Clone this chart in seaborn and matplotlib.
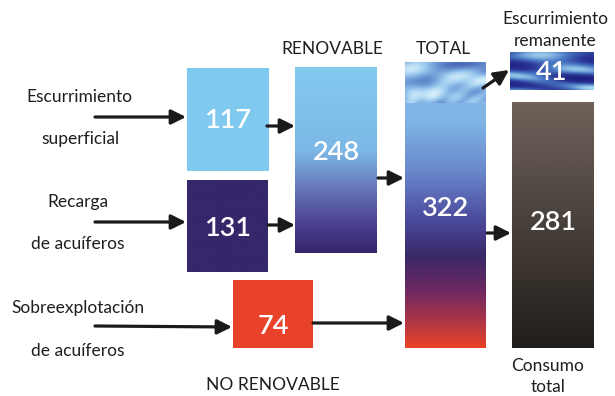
import numpy as np
import matplotlib
matplotlib.use("Agg")
import matplotlib.pyplot as plt
from matplotlib.colors import LinearSegmentedColormap
import seaborn as sns

# values (hm3 per year style flow diagram)
nodes = ["superficial", "recarga", "renovable", "no_renovable", "total", "remanente", "consumo"]
values = [117, 131, 248, 74, 322, 41, 281]

sns.set_theme(style="white")
plt.rcParams['font.family'] = ['Lato', 'DejaVu Sans']

# box layout in pixel coordinates: x0, x1, y0, y1
boxes = {
    "superficial": (187, 269, 68, 171),
    "recarga": (187, 268, 180, 272),
    "renovable": (295, 377, 67, 253),
    "no_renovable": (233, 313, 280, 348),
    "total": (405, 486, 62, 348),
    "remanente": (510, 594, 52, 90),
    "consumo": (512, 594, 102, 348),
}
num_y = {"superficial": 121, "recarga": 229, "renovable": 153, "no_renovable": 326,
         "total": 208, "remanente": 72, "consumo": 222}

fills = {
    "superficial": [(0, "#80c9ef"), (1, "#80c9ef")],
    "recarga": [(0, "#36266a"), (1, "#36266a")],
    "renovable": [(0, "#84caef"), (0.45, "#7cb8e6"), (0.62, "#6b80c0"),
                  (0.85, "#4b3f90"), (1, "#35256a")],
    "no_renovable": [(0, "#e8432a"), (1, "#e8432a")],
    "total": [(0, "#7fb6e6"), (0.2, "#7fb6e6"), (0.38, "#6a88cc"), (0.55, "#4c4a9c"),
              (0.68, "#3a2868"), (0.8, "#6e2860"), (0.9, "#a8344a"), (1, "#ea4226")],
    "consumo": [(0, "#6e625a"), (1, "#221e1b")],
}

fig = plt.figure(figsize=(6.15, 3.96), dpi=100)
ax = fig.add_axes([0, 0, 1, 1])

for name, val in zip(nodes, values):
    x0, x1, y0, y1 = boxes[name]
    if name in fills:
        cmap = LinearSegmentedColormap.from_list(name, fills[name])
        grad = np.linspace(0, 1, 256).reshape(-1, 1)
        ax.imshow(grad, cmap=cmap, extent=(x0, x1, y1, y0), aspect='auto',
                  interpolation='bilinear', zorder=1)
    ax.text((x0 + x1) / 2, num_y[name], str(val), color="white", fontsize=19.5,
            fontweight="semibold", ha="center", va="center", zorder=5)

# cloudy textures (sky photos in the original), soft horizontal streaks
gx, gy = np.meshgrid(np.linspace(0, 1, 160), np.linspace(0, 1, 80))
pat = (np.sin(4 * gx + 7 * gy + 2 * np.sin(3 * gx)) + 0.8 * np.sin(11 * gy - 3 * gx)
       + 0.5 * np.sin(6 * gx + 19 * gy * gx) + 0.7 * gy) / 3.0
pat2 = (np.sin(5 * gx - 9 * gy + 1.5 * np.sin(4 * gy)) + 0.7 * np.sin(13 * gy + 2 * gx)
        + 0.4 * np.sin(8 * gx * gy)) / 2.1
sky = LinearSegmentedColormap.from_list("sky", ["#4a6ab8", "#6f9ad6", "#9ccbef", "#d6eefa"])
ax.imshow(pat, cmap=sky, extent=(405, 486, 103, 62), aspect='auto', zorder=2)
deep = LinearSegmentedColormap.from_list("deep", ["#1e2080", "#2a3594", "#4a78c4", "#a8dcf2"])
ax.imshow(pat2, cmap=deep, extent=(510, 594, 90, 52), aspect='auto', zorder=2)

arrow = dict(arrowstyle="-|>", color="#1a1a1a", lw=2.3, mutation_scale=22, shrinkA=0, shrinkB=0)
links = [((95, 117), (186, 117)), ((95, 222), (186, 222)), ((95, 326), (232, 327)),
         ((267, 126), (295, 126)), ((268, 225), (295, 225)), ((378, 178), (404, 178)),
         ((313, 323), (404, 323)), ((487, 233), (511, 233)), ((483, 88), (509, 70))]
for start, end in links:
    ax.annotate("", xy=end, xytext=start, arrowprops=arrow, zorder=4)

labels = [("Escurrimiento", 79, 97), ("superficial", 80, 139), ("Recarga", 78, 202),
          ("de acuíferos", 78, 244), ("Sobreexplotación", 78, 308), ("de acuíferos", 78, 351),
          ("RENOVABLE", 332, 49), ("TOTAL", 443, 49), ("Escurrimiento", 555, 19),
          ("remanente", 555, 41), ("NO RENOVABLE", 273, 385), ("Consumo", 548, 366),
          ("total", 548, 387)]
for txt, x, y in labels:
    ax.text(x, y, txt, fontsize=12.5, color="#1e1e1e", ha="center", va="center")

ax.set_xlim(0, 615)
ax.set_ylim(396, 0)
ax.axis("off")
fig.savefig("out.png", dpi=100)
